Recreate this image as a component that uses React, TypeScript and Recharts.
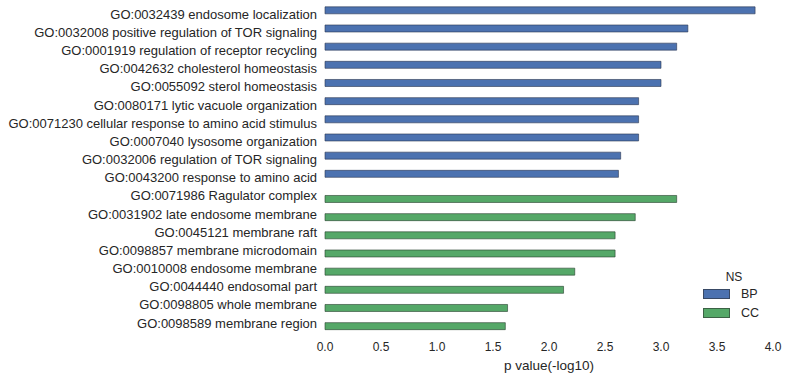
import { BarChart, Bar, XAxis, YAxis, Legend } from 'recharts';

const bpTerms = [
  'GO:0032439 endosome localization',
  'GO:0032008 positive regulation of TOR signaling',
  'GO:0001919 regulation of receptor recycling',
  'GO:0042632 cholesterol homeostasis',
  'GO:0055092 sterol homeostasis',
  'GO:0080171 lytic vacuole organization',
  'GO:0071230 cellular response to amino acid stimulus',
  'GO:0007040 lysosome organization',
  'GO:0032006 regulation of TOR signaling',
  'GO:0043200 response to amino acid',
];
const bpValues = [3.84, 3.24, 3.14, 3.0, 3.0, 2.8, 2.8, 2.8, 2.64, 2.62];

const ccTerms = [
  'GO:0071986 Ragulator complex',
  'GO:0031902 late endosome membrane',
  'GO:0045121 membrane raft',
  'GO:0098857 membrane microdomain',
  'GO:0010008 endosome membrane',
  'GO:0044440 endosomal part',
  'GO:0098805 whole membrane',
  'GO:0098589 membrane region',
];
const ccValues = [3.14, 2.77, 2.59, 2.59, 2.23, 2.13, 1.63, 1.61];

const xTicks = [0, 0.5, 1, 1.5, 2, 2.5, 3, 3.5, 4];

const BLUE = '#4C72B0';
const GREEN = '#55A868';
const TEXT = '#262626';
const FONT = '"Liberation Sans", Arial, sans-serif';

const rows = [
  ...bpTerms.map((name, i) => ({ name, BP: bpValues[i], CC: null })),
  ...ccTerms.map((name, i) => ({ name, BP: null, CC: ccValues[i] })),
];

// single-line category labels (the default tick wraps long text)
function TermTick(props: any) {
  const { x, y, payload } = props;
  return (
    <text x={x} y={y} dy="0.36em" textAnchor="end" fill={TEXT} fontSize={13} fontFamily={FONT}>
      {payload.value}
    </text>
  );
}

function NsLegend() {
  const items = [
    { label: 'BP', color: BLUE },
    { label: 'CC', color: GREEN },
  ];
  return (
    <div style={{ fontFamily: FONT, color: TEXT, width: 70 }}>
      <div style={{ fontSize: 12, textAlign: 'center', marginLeft: -8, lineHeight: '14px' }}>NS</div>
      {items.map((it) => (
        <div key={it.label} style={{ display: 'flex', alignItems: 'center', height: 19 }}>
          <div
            style={{
              width: 25,
              height: 8,
              background: it.color,
              border: '1px solid rgba(40,40,40,0.55)',
            }}
          />
          <span style={{ fontSize: 12.5, marginLeft: 11 }}>{it.label}</span>
        </div>
      ))}
    </div>
  );
}

export default function App() {
  return (
    <div style={{ position: 'absolute', left: 0, top: 0, background: '#fff' }}>
      <BarChart
        width={788}
        height={379}
        data={rows}
        layout="vertical"
        margin={{ top: 5, right: 15, bottom: 0, left: 0 }}
        barCategoryGap="10%"
        barGap={0}
      >
        <XAxis
          type="number"
          domain={[0, 4]}
          ticks={xTicks}
          tickFormatter={(v: number) => v.toFixed(1)}
          axisLine={false}
          tickLine={false}
          tickMargin={4}
          height={47}
          tick={{ fill: TEXT, fontSize: 12, fontFamily: FONT }}
          label={{
            value: 'p value(-log10)',
            position: 'insideBottom',
            offset: 9,
            fill: TEXT,
            fontSize: 13.5,
            fontFamily: FONT,
          }}
        />
        <YAxis
          type="category"
          dataKey="name"
          width={325}
          interval={0}
          axisLine={false}
          tickLine={false}
          tick={<TermTick />}
        />
        <Legend
          layout="vertical"
          align="center"
          verticalAlign="middle"
          wrapperStyle={{ left: 703, top: 270, width: 80 }}
          content={() => <NsLegend />}
        />
        <Bar dataKey="BP" fill={BLUE} stroke="#2a3550" strokeOpacity={0.6} strokeWidth={1} isAnimationActive={false} />
        <Bar dataKey="CC" fill={GREEN} stroke="#26402d" strokeOpacity={0.6} strokeWidth={1} isAnimationActive={false} />
      </BarChart>
    </div>
  );
}
